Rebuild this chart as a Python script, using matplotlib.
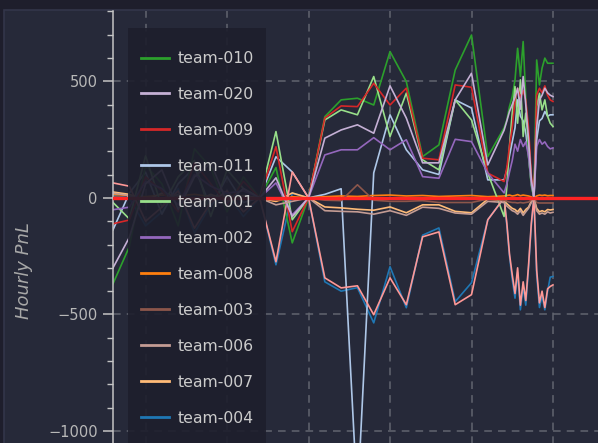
import matplotlib
matplotlib.use("Agg")
import matplotlib.pyplot as plt
from matplotlib.ticker import MultipleLocator
from matplotlib.patches import Rectangle

# hours since start (hourly, then 10-minute samples at the end)
hours = [0, 1, 2, 3, 4, 5, 6, 7, 8, 9, 10, 11, 12, 13, 14, 15, 16, 17, 18, 19, 20, 21, 22, 23, 24,
         24.17, 24.33, 24.5, 24.67, 24.83, 25.0, 25.17, 25.33, 25.5, 25.67, 25.83,
         26.0, 26.17, 26.33, 26.5, 26.67, 26.83, 27.0]

team_010 = [-368, -210, 140, 60, -120, 210, 130, -60, 90, 0,
            130, -193, 0, 348, 420, 427, 398, 627, 498, 177, 227, 548, 698, 177, 300,
            334, 391, 434, 506, 641, 520, 670, 434, 177, 49, 0, 591, 484, 556, 599, 577, 577, 577]
team_001 = [-20, -90, 180, -40, 90, 160, -80, 120, 40, 0,
            284, -94, 0, 334, 377, 356, 520, 263, 449, 163, 120, 420, 334, 106, -80,
            49, 220, 363, 477, 320, 506, 263, 363, 249, 77, 0, 391, 448, 377, 420, 349, 320, 306]
team_009 = [-111, -95, 90, 30, -60, 150, 60, -30, 70, 0,
            219, -145, 0, 342, 394, 391, 491, 398, 470, 170, 163, 484, 474, 106, 70,
            130, 220, 300, 420, 470, 430, 460, 420, 300, 100, 0, 440, 470, 450, 480, 440, 420, 413]
team_020 = [-300, -170, 60, 120, -50, 90, 150, -20, 40, 0,
            86, -80, 0, 256, 291, 313, 277, 480, 342, 150, 150, 420, 534, 141, 290,
            330, 370, 400, 430, 470, 380, 520, 400, 250, 80, 0, 300, 420, 440, 470, 450, 440, 434]
team_011 = [-137, 20, 110, -70, 60, 130, -40, 90, -20, 0,
            176, 111, 0, 15, 39, -1300, 107, 356, 206, 120, 100, 420, 385, 77, 77,
            120, 180, 240, 300, 420, 350, 330, 280, 180, 60, 0, 250, 330, 340, 370, 350, 356, 356]
team_002 = [-51, -40, 70, 40, -30, 100, 50, 20, 30, 0,
            64, -73, 0, 184, 206, 206, 258, 206, 249, 91, 84, 251, 241, 106, 21,
            60, 110, 160, 230, 200, 250, 220, 240, 180, 60, 0, 220, 250, 230, 240, 220, 210, 214]
team_008 = [15, 10, 5, 12, 8, 15, 5, 10, 6, 0,
            -15, 5, 0, 5, 8, 6, 10, 12, 8, 10, 6, 8, 10, 5, 8,
            10, 12, 8, 10, 14, 9, 12, 10, 8, 4, 0, 8, 12, 10, 12, 9, 10, 10]
team_003 = [5, 0, -10, -5, 10, -8, -5, 0, -5, 0,
            -10, -5, 0, -10, -12, 56, -10, -15, -15, -12, -20, -20, -20, -5, -10,
            -15, -18, -20, -20, -22, -20, -22, -20, -18, -10, 0, -20, -22, -22, -22, -22, -22, -22]
team_006 = [20, 10, -20, -10, 15, -30, 10, -15, 5, 0,
            -30, -15, 0, -55, -58, -60, -70, -55, -75, -40, -45, -65, -70, -15, -20,
            -35, -45, -55, -60, -70, -55, -75, -60, -45, -20, 0, -55, -70, -65, -70, -60, -65, -62]
team_007 = [25, 15, -10, 20, 5, -20, 15, -10, 10, 0,
            -15, 21, 0, -39, -43, -49, -53, -39, -64, -30, -30, -58, -64, -5, -12,
            -25, -35, -45, -50, -60, -45, -65, -50, -40, -15, 0, -45, -60, -55, -60, -50, -52, -50]
team_004 = [10, 0, -120, -60, 40, -150, -30, 20, -80, 0,
            -287, 20, 0, -360, -400, -385, -536, -295, -471, -160, -129, -445, -364, -94, 0,
            -120, -250, -350, -430, -320, -480, -380, -460, -300, -120, 0, -330, -470, -420, -480, -400, -340, -337]
team_005 = [64, 50, -100, -40, 30, -130, -20, 30, -60, 0,
            -274, 111, 0, -343, -386, -377, -501, -343, -458, -167, -146, -458, -415, -94, 0,
            -110, -240, -330, -410, -300, -460, -360, -440, -290, -110, 0, -310, -450, -400, -470, -390, -380, -373]

# plotting order (tab20 colour order)
series = [
    ("team-004", team_004, "#1f77b4"),
    ("team-011", team_011, "#aec7e8"),
    ("team-008", team_008, "#ff7f0e"),
    ("team-007", team_007, "#ffbb78"),
    ("team-010", team_010, "#2ca02c"),
    ("team-001", team_001, "#98df8a"),
    ("team-009", team_009, "#d62728"),
    ("team-005", team_005, "#ff9896"),
    ("team-002", team_002, "#9467bd"),
    ("team-020", team_020, "#c5b0d5"),
    ("team-003", team_003, "#8c564b"),
    ("team-006", team_006, "#c49c94"),
]
# entries visible in the legend
legend_order = ["team-010", "team-020", "team-009", "team-011", "team-001", "team-002",
                "team-008", "team-003", "team-006", "team-007", "team-004"]

bg_outer = "#1e1e2c"
bg_card = "#262939"
W, H = 598, 443

fig = plt.figure(figsize=(W / 100, H / 100), dpi=100, facecolor=bg_outer)
# card behind the chart
fig.patches.append(Rectangle((4 / W, -0.1), 1.0, 1 - 10 / H + 0.1, transform=fig.transFigure,
                             facecolor=bg_card, edgecolor="#33364a", lw=1.2, zorder=-5))

ax = fig.add_axes([113 / W, -0.1986, 0.872, 1.1738])
ax.set_zorder(1)
ax.set_facecolor(bg_card)

lines = {}
for name, vals, col in series:
    ln, = ax.plot(hours, vals, color=col, lw=1.2, label=name)
    lines[name] = ln

ax.axhline(0, color="#ff2424", lw=2.4, zorder=5)

ax.set_xlim(0, 32)
ax.set_ylim(-1428, 801)
ax.set_xticks([2, 7, 12, 17, 22, 27])
ax.yaxis.set_major_locator(MultipleLocator(500))
ax.yaxis.set_minor_locator(MultipleLocator(100))
ax.grid(True, which="major", color="#62656f", linestyle=(0, (5, 4)), lw=1.1)

for s in ["top", "right", "bottom"]:
    ax.spines[s].set_visible(False)
ax.spines["left"].set_color("#c4c4c4")
ax.spines["left"].set_linewidth(1.1)
ax.tick_params(axis="y", which="major", colors="#c4c4c4", labelcolor="#b8b8b8",
               length=7, width=1.1, labelsize=10.5, pad=4)
ax.tick_params(axis="y", which="minor", colors="#c4c4c4", length=4.5, width=1.0)
ax.tick_params(axis="x", length=0, labelbottom=False)

ax.set_ylabel("Hourly PnL", fontsize=13, style="italic", color="#a8a8a8")
ax.yaxis.set_label_coords(-0.153, 0.5)

# legend panel drawn separately so its padding can match
panel = Rectangle((128 / W, -0.2), (266 - 128) / W, 1 - 28 / H + 0.2, transform=fig.transFigure,
                  facecolor="#1e1f2d", edgecolor="none", alpha=0.92, zorder=2)
fig.patches.append(panel)

leg = fig.legend([lines[n] for n in legend_order], legend_order,
                 loc="upper left", bbox_to_anchor=(141 / W, 1 - 51 / H),
                 frameon=False, borderpad=0, borderaxespad=0,
                 fontsize=11.3, labelcolor="#cccccc", labelspacing=1.335,
                 handlelength=1.8, handletextpad=0.55)
leg.set_zorder(3)
for h in leg.legend_handles:
    h.set_linewidth(2.0)

fig.savefig("out.png", dpi=100, facecolor=bg_outer)
